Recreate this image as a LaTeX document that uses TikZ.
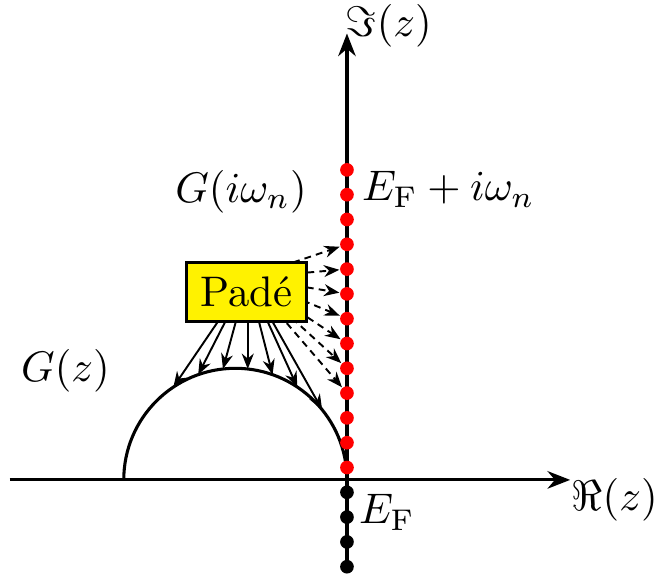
\documentclass[tikz,border=0pt]{standalone}
\usetikzlibrary{arrows.meta}
\begin{document}
\begin{tikzpicture}[x=5.8pt,y=5.8pt,
  axisline/.style={line width=0.72pt,-{Stealth[length=5.3pt,width=4.1pt]}},
  dotred/.style={circle,fill=red,inner sep=0pt,minimum size=3.2pt},
  dotblack/.style={circle,fill=black,inner sep=0pt,minimum size=3.2pt},
  fanarrow/.style={line width=0.45pt,-{Stealth[length=3.6pt,width=2.8pt]}},
  dasharrow/.style={fanarrow,dash pattern=on 1.6pt off 1.2pt},
  lbl/.style={inner sep=0pt},
  padebox/.style={draw,fill=yellow,line width=0.65pt}
]
\useasboundingbox (-13.99,-4.07) rectangle (12.46,19.35);
% axes
\coordinate (xs) at (-13.6,0);
\coordinate (xe) at (9,0);
\coordinate (ys) at (0,-3.5);
\coordinate (ye) at (0,18);
\draw[axisline] (xs) -- (xe);
\draw[axisline] (ys) -- (ye);
% semicircle
\coordinate (arcL) at (-9,0);
\draw[line width=0.72pt] (arcL) arc[start angle=180,end angle=0,radius=4.5];
% dots
\foreach \k in {0,...,12} \node[dotred] (r\k) at (0,{\k+0.5}) {};
\foreach \k in {1,...,4} \node[dotblack] (b\k) at (0,{-\k+0.5}) {};
% fan
\coordinate (fan) at (-4,8.15);
\foreach \k in {3,...,9} \draw[dasharrow] (fan) -- (r\k);
\foreach \i/\xx in {1/-7,2/-6,3/-5,4/-4,5/-3,6/-2,7/-1} {
  \coordinate (a\i) at ({\xx},{sqrt(20.25-(\xx+4.5)^2)});
  \draw[fanarrow] (fan) -- (a\i);
}
% Pade box
\node[padebox] (pade) at (-4.05,7.58) {Padé};
% labels
\node[lbl] (imlbl) at (1.69,18.3) {$\Im(z)$};
\node[lbl] (relbl) at (10.8,-0.81) {$\Re(z)$};
\node[lbl] (efiw) at (4.09,11.71) {$E_{\mathrm{F}}+i\omega_n$};
\node[lbl] (giw) at (-4.27,11.63) {$G(i\omega_n)$};
\node[lbl] (gz) at (-11.35,4.40) {$G(z)$};
\node[lbl] (ef) at (1.61,-1.31) {$E_{\mathrm{F}}$};
\end{tikzpicture}
\end{document}
